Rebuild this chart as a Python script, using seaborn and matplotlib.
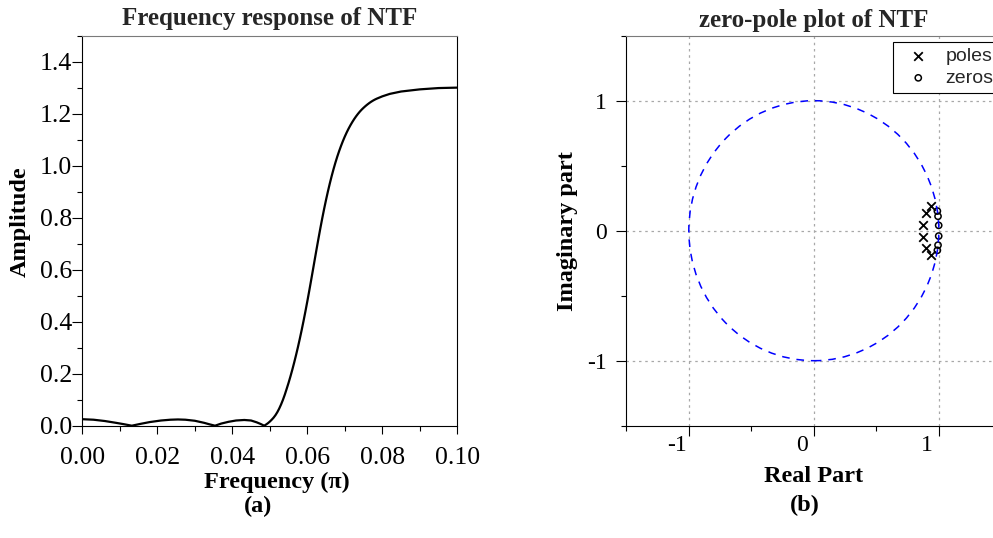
import numpy as np
import pandas as pd
import matplotlib
matplotlib.use("Agg")
import matplotlib.pyplot as plt
import seaborn as sns
from matplotlib.patches import Circle
from matplotlib.ticker import MultipleLocator, FormatStrFormatter
from matplotlib.transforms import ScaledTranslation

# ---------------- data ----------------
# (a) magnitude of the NTF, frequency in units of pi
freq = [0.0000, 0.0030, 0.0060, 0.0090, 0.0110, 0.0132, 0.0155, 0.0180,
        0.0210, 0.0235, 0.0255, 0.0275, 0.0300, 0.0325, 0.0340, 0.0354,
        0.0370, 0.0390, 0.0410, 0.0432, 0.0450, 0.0465, 0.0475, 0.0485,
        0.0490, 0.0495, 0.0500, 0.0505, 0.0510, 0.0515, 0.0520, 0.0525,
        0.0530, 0.0535, 0.0540, 0.0545, 0.0550, 0.0555, 0.0560, 0.0565,
        0.0570, 0.0575, 0.0580, 0.0585, 0.0590, 0.0595, 0.0600, 0.0605,
        0.0610, 0.0615, 0.0620, 0.0625, 0.0630, 0.0635, 0.0640, 0.0645,
        0.0650, 0.0655, 0.0660, 0.0665, 0.0670, 0.0675, 0.0680, 0.0685,
        0.0690, 0.0695, 0.0700, 0.0705, 0.0710, 0.0715, 0.0720, 0.0725,
        0.0730, 0.0735, 0.0740, 0.0745, 0.0750, 0.0755, 0.0760, 0.0765,
        0.0770, 0.0775, 0.0780, 0.0785, 0.0800, 0.0820, 0.0850, 0.0900,
        0.0950, 0.1000]
amplitude = [0.025, 0.023, 0.018, 0.011, 0.006, 0.000, 0.007, 0.014,
             0.020, 0.023, 0.024, 0.023, 0.019, 0.011, 0.005, 0.000,
             0.008, 0.015, 0.020, 0.022, 0.020, 0.013, 0.007, 0.000,
             0.0044, 0.0096, 0.0158, 0.0229, 0.0308, 0.0403, 0.0519, 0.0656,
             0.0815, 0.0994, 0.1195, 0.1418, 0.1647, 0.1892, 0.2152, 0.2427,
             0.2717, 0.3022, 0.3343, 0.3679, 0.4031, 0.4398, 0.4779, 0.5173,
             0.5578, 0.5989, 0.6403, 0.6814, 0.7217, 0.7609, 0.7987, 0.8347,
             0.8689, 0.9012, 0.9316, 0.9602, 0.9870, 1.0120, 1.0352, 1.0566,
             1.0764, 1.0949, 1.1120, 1.1278, 1.1423, 1.1556, 1.1679, 1.1793,
             1.1897, 1.1992, 1.2079, 1.2157, 1.2227, 1.2292, 1.2352, 1.2407,
             1.2457, 1.2502, 1.2542, 1.2577, 1.2667, 1.2762, 1.2853, 1.2936,
             1.2986, 1.3003]

# (b) poles and zeros
pole_re = [0.940, 0.895, 0.870, 0.870, 0.895, 0.940]
pole_im = [0.190, 0.135, 0.047, -0.047, -0.135, -0.190]
zero_re = [0.9885, 0.9938, 0.9992, 0.9992, 0.9938, 0.9885]
zero_im = [0.151, 0.111, 0.041, -0.041, -0.111, -0.151]

# ---------------- style ----------------
sns.set_style("ticks")
plt.rcParams["font.family"] = ["Liberation Serif", "DejaVu Serif"]
plt.rcParams["axes.unicode_minus"] = False
plt.rcParams["axes.linewidth"] = 0.8

W, H = 993, 538
fig = plt.figure(figsize=(W / 100, H / 100), dpi=100)

ax_top, ax_bot = 35.7, 425.7
ax1 = fig.add_axes([82.3 / W, 1 - ax_bot / H, 375 / W, (ax_bot - ax_top) / H])
ax2 = fig.add_axes([626.3 / W, 1 - ax_bot / H, 375 / W, (ax_bot - ax_top) / H])

# ---------------- (a) frequency response ----------------
df_a = pd.DataFrame({"freq": freq, "amp": amplitude})
sns.lineplot(data=df_a, x="freq", y="amp", ax=ax1, color="black",
             linewidth=1.6, sort=False, estimator=None)
ax1.set_xlim(0, 0.1)
ax1.set_ylim(0, 1.5)
ax1.xaxis.set_major_locator(MultipleLocator(0.02))
ax1.xaxis.set_minor_locator(MultipleLocator(0.01))
ax1.yaxis.set_major_locator(MultipleLocator(0.2))
ax1.yaxis.set_minor_locator(MultipleLocator(0.1))
ax1.xaxis.set_major_formatter(FormatStrFormatter("%.2f"))
ax1.yaxis.set_major_formatter(FormatStrFormatter("%.1f"))
ax1.tick_params(which="both", direction="out", top=False, right=False,
                width=0.8, colors="black", labelsize=18.5)
ax1.tick_params(axis="x", which="major", length=6, pad=9)
ax1.tick_params(axis="y", which="major", length=7, pad=0.5)
ax1.tick_params(which="minor", length=3.5)
ax1.set_xlabel("")
ax1.set_ylabel("")
ax1.set_title("Frequency response of NTF", fontsize=18, fontweight="bold", pad=8)
for s in ax1.spines.values():
    s.set_visible(True)
    s.set_color("black")
    s.set_linewidth(0.8)
ax1.spines["top"].set_color("#7a7a7a")

# ---------------- (b) zero-pole plot ----------------
ax2.set_xlim(-1.5, 1.5)
ax2.set_ylim(-1.5, 1.5)
ax2.xaxis.set_major_locator(MultipleLocator(1))
ax2.xaxis.set_minor_locator(MultipleLocator(0.5))
ax2.yaxis.set_major_locator(MultipleLocator(1))
ax2.yaxis.set_minor_locator(MultipleLocator(0.5))
ax2.grid(True, which="major", color="#a8a8a8", linestyle=(0, (2, 3)), linewidth=0.9)
ax2.set_axisbelow(True)

ax2.add_patch(Circle((0, 0), 1, fill=False, edgecolor="blue",
                     linestyle=(0, (5, 4.5)), linewidth=1.1, zorder=4))

df_p = pd.DataFrame({"re": pole_re, "im": pole_im})
df_z = pd.DataFrame({"re": zero_re, "im": zero_im})
sns.scatterplot(data=df_p, x="re", y="im", ax=ax2, marker="x", color="black",
                s=38, linewidth=1.3, label="poles", zorder=3)
sns.scatterplot(data=df_z, x="re", y="im", ax=ax2, marker="o",
                facecolors="none", edgecolors="black", s=20, linewidth=1.1,
                label="zeros", zorder=3)

ax2.tick_params(which="both", direction="out", top=False, right=False,
                width=0.8, colors="black", labelsize=17)
ax2.tick_params(axis="x", which="major", length=7, pad=0)
ax2.tick_params(axis="y", which="major", length=7, pad=7)
ax2.tick_params(which="minor", length=3.5)
ax2.set_xlabel("")
ax2.set_ylabel("")
ax2.set_title("zero-pole plot of NTF", fontsize=18, fontweight="bold", pad=6)
for s in ax2.spines.values():
    s.set_visible(True)
    s.set_color("black")
    s.set_linewidth(0.8)
ax2.spines["top"].set_color("#7a7a7a")

shift = ScaledTranslation(-12 / 100, 0, fig.dpi_scale_trans)
for lbl in ax2.get_xticklabels():
    lbl.set_transform(lbl.get_transform() + shift)

leg = ax2.legend(loc="upper left", bbox_to_anchor=(893 / W, 1 - 42 / H),
                 bbox_transform=fig.transFigure, borderaxespad=0,
                 prop={"family": "Liberation Sans", "size": 14},
                 frameon=True, fancybox=False, framealpha=1,
                 edgecolor="black", borderpad=0.3, handlelength=2,
                 handletextpad=0.4, labelspacing=0.2)
leg.get_frame().set_linewidth(0.8)

# ---------------- axis labels & captions ----------------
bold = dict(fontweight="bold", fontsize=17.5, color="black")
fig.text(20 / W, 1 - 222 / H, "Amplitude", rotation=90, ha="center", va="center", **bold)
fig.text(277 / W, 1 - 488 / H, "Frequency (\u03c0)", ha="center", va="baseline", **bold)
fig.text(258 / W, 1 - 512 / H, "(a)", ha="center", va="baseline", **bold)
fig.text(567 / W, 1 - 231 / H, "Imaginary part", rotation=90, ha="center", va="center", **bold)
fig.text(814 / W, 1 - 482 / H, "Real Part", ha="center", va="baseline", **bold)
fig.text(805 / W, 1 - 511 / H, "(b)", ha="center", va="baseline", **bold)

fig.savefig("out.png", dpi=100)
